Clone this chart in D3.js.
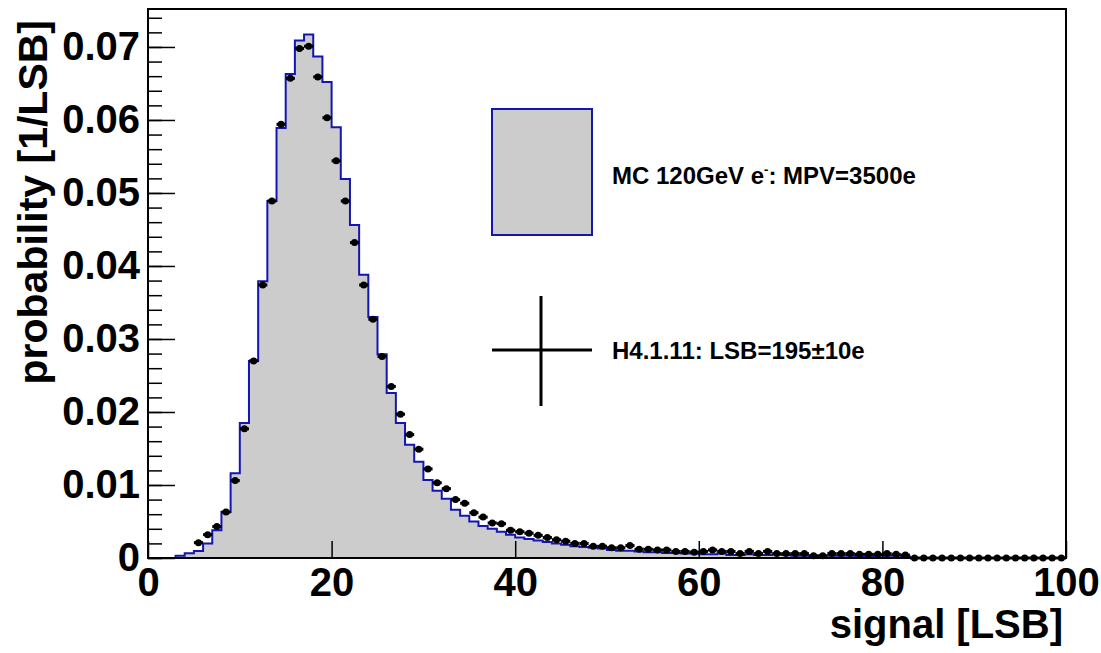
<!DOCTYPE html>
<html>
<head>
<meta charset="utf-8">
<script src="https://cdn.jsdelivr.net/npm/d3@7"></script>
<style>
  body { margin: 0; background: #fff; }
  text { font-family: "Liberation Sans", Arial, Helvetica, sans-serif; font-weight: bold; fill: #000; }
</style>
</head>
<body>
<svg id="chart" width="1101" height="653"></svg>
<script>
// bin contents, one per unit bin from 0 to 100
var mcValues = [
  0, 0, 0, 0.0003, 0.00064, 0.00096, 0.0020, 0.0038, 0.0063, 0.0116,
  0.0185, 0.0270, 0.0379, 0.0489, 0.0589, 0.0663, 0.0709, 0.0717, 0.0687, 0.0652,
  0.0590, 0.0519, 0.0456, 0.0388, 0.0330, 0.0279, 0.0226, 0.0185, 0.0155, 0.0132,
  0.0107, 0.0092, 0.0081, 0.0066, 0.0058, 0.0050, 0.0044, 0.0040, 0.0036, 0.0032,
  0.0028, 0.0026, 0.0024, 0.0022, 0.0020, 0.0018, 0.0016, 0.0015, 0.0014, 0.0013,
  0.0011, 0.0010, 0.0010, 0.0009, 0.0008, 0.0008, 0.0007, 0.0007, 0.0006, 0.0006,
  0.0005, 0.0005, 0.0006, 0.0004, 0.0004, 0.0005, 0.0004, 0.0004, 0.0005, 0.0004,
  0.0003, 0.0003, 0.0002, 0.0003, 0.0003, 0.0003, 0.0003, 0.0002, 0.0002, 0.0003,
  0.0003, 0.0003, 0.0002, 0, 0, 0, 0, 0, 0, 0,
  0, 0, 0, 0, 0, 0, 0, 0, 0, 0
];

var dataValues = [
  null, null, null, null, null, 0.0021, 0.0032, 0.0043, 0.0063, 0.0106,
  0.0177, 0.0270, 0.0374, 0.0489, 0.0594, 0.0657, 0.0698, 0.0701, 0.0659, 0.0603,
  0.0544, 0.0489, 0.0432, 0.0374, 0.0327, 0.0276, 0.0235, 0.0197, 0.0169, 0.0149,
  0.0122, 0.0103, 0.0095, 0.0080, 0.0075, 0.0062, 0.0056, 0.0048, 0.0047, 0.0038,
  0.0036, 0.0034, 0.0031, 0.0028, 0.0025, 0.0023, 0.0020, 0.0020, 0.0016, 0.0016,
  0.0014, 0.0014, 0.0017, 0.0012, 0.0012, 0.0011, 0.0011, 0.0009, 0.0009, 0.0008,
  0.0009, 0.0011, 0.0009, 0.0009, 0.0006, 0.0009, 0.0006, 0.0009, 0.0006, 0.0006,
  0.0006, 0.0006, 0.0003, 0.0003, 0.0006, 0.0006, 0.0006, 0.0005, 0.0005, 0.0005,
  0.0006, 0.0005, 0.0004, 0, 0, 0, 0, 0, 0, 0,
  0, 0, 0, 0, 0, 0, 0, 0, 0, 0
];

var xTicks = [0, 20, 40, 60, 80, 100];
var yTicks = [0, 0.01, 0.02, 0.03, 0.04, 0.05, 0.06, 0.07];
var yMinorTicks = d3.range(0, 0.0751, 0.002);
var yTickLabels = ["0", "0.01", "0.02", "0.03", "0.04", "0.05", "0.06", "0.07"];

var xTitle = "signal [LSB]";
var yTitle = "probability [1/LSB]";
var legendMc = ["MC 120GeV e", "-", ": MPV=3500e"];
var legendData = "H4.1.11: LSB=195\u00b110e";

var frameL = 148, frameR = 1066, frameT = 9, frameB = 558;

var svg = d3.select("#chart");

var x = d3.scaleLinear().domain([0, 100]).range([frameL, frameR]);
var y = d3.scaleLinear().domain([0, 0.0752]).range([frameB, frameT]);

// histogram points (step after, closing at the last edge)
var mcPts = mcValues.map(function(v, i) { return [i, v]; });
mcPts.push([100, mcValues[mcValues.length - 1]]);

var area = d3.area()
    .curve(d3.curveStepAfter)
    .x(function(d) { return x(d[0]); })
    .y0(y(0))
    .y1(function(d) { return y(d[1]); });

var line = d3.line()
    .curve(d3.curveStepAfter)
    .x(function(d) { return x(d[0]); })
    .y(function(d) { return y(d[1]); });

svg.append("path")
    .datum(mcPts)
    .attr("d", area)
    .attr("fill", "#cccccc");

svg.append("path")
    .datum(mcPts)
    .attr("d", line)
    .attr("fill", "none")
    .attr("stroke", "#1515b0")
    .attr("stroke-width", 2);

// data points with bin-width bars
var pts = dataValues.map(function(v, i) { return {bin: i, v: v}; })
    .filter(function(d) { return d.v !== null; });

var dots = svg.append("g");
dots.selectAll("line")
    .data(pts)
    .enter().append("line")
    .attr("x1", function(d) { return x(d.bin); })
    .attr("x2", function(d) { return x(d.bin + 1); })
    .attr("y1", function(d) { return y(d.v); })
    .attr("y2", function(d) { return y(d.v); })
    .attr("stroke", "#000")
    .attr("stroke-width", 3);

dots.selectAll("circle")
    .data(pts)
    .enter().append("circle")
    .attr("cx", function(d) { return x(d.bin + 0.5); })
    .attr("cy", function(d) { return y(d.v); })
    .attr("r", 3.5)
    .attr("fill", "#000");

// frame
svg.append("rect")
    .attr("x", frameL).attr("y", frameT)
    .attr("width", frameR - frameL).attr("height", frameB - frameT)
    .attr("fill", "none")
    .attr("stroke", "#000")
    .attr("stroke-width", 2);

// y axis: minor ticks, then major ticks with labels
svg.append("g")
    .attr("transform", "translate(" + frameL + ",0)")
    .call(d3.axisLeft(y).tickValues(yMinorTicks).tickSizeInner(-14).tickSizeOuter(0).tickFormat(""))
    .call(function(g) { g.select(".domain").remove(); })
    .selectAll("line").attr("stroke-width", 1.5);

var yAxis = svg.append("g")
    .attr("transform", "translate(" + frameL + ",0)")
    .call(d3.axisLeft(y).tickValues(yTicks).tickSizeInner(-27).tickSizeOuter(0).tickPadding(8)
      .tickFormat(function(d, i) { return yTickLabels[i]; }));
yAxis.select(".domain").remove();
yAxis.selectAll("line").attr("stroke-width", 1.5);
yAxis.selectAll("text")
    .attr("font-size", 40)
    .attr("font-family", null);

// x axis
var xAxis = svg.append("g")
    .attr("transform", "translate(0," + frameB + ")")
    .call(d3.axisBottom(x).tickValues(xTicks).tickSizeInner(-17).tickSizeOuter(0).tickPadding(10));
xAxis.select(".domain").remove();
xAxis.selectAll("line").attr("stroke-width", 1.5);
xAxis.selectAll("text")
    .attr("font-size", 40)
    .attr("font-family", null);

// axis titles
svg.append("text")
    .attr("x", 1063).attr("y", 638)
    .attr("text-anchor", "end")
    .attr("font-size", 40)
    .text(xTitle);

svg.append("text")
    .attr("transform", "translate(47,20) rotate(-90)")
    .attr("text-anchor", "end")
    .attr("font-size", 41)
    .text(yTitle);

// legend
svg.append("rect")
    .attr("x", 492).attr("y", 109)
    .attr("width", 100).attr("height", 126)
    .attr("fill", "#cccccc")
    .attr("stroke", "#1515b0")
    .attr("stroke-width", 2);

var t1 = svg.append("text")
    .attr("x", 612).attr("y", 184)
    .attr("font-size", 24);
t1.append("tspan").text(legendMc[0]);
t1.append("tspan").attr("dy", -10).attr("font-size", 13).text(legendMc[1]);
t1.append("tspan").attr("dy", 10).text(legendMc[2]);

svg.append("line")
    .attr("x1", 492).attr("x2", 592).attr("y1", 350).attr("y2", 350)
    .attr("stroke", "#000").attr("stroke-width", 3);
svg.append("line")
    .attr("x1", 541).attr("x2", 541).attr("y1", 296).attr("y2", 406)
    .attr("stroke", "#000").attr("stroke-width", 3);

svg.append("text")
    .attr("x", 612).attr("y", 359)
    .attr("font-size", 24)
    .text(legendData);
</script>
</body>
</html>
